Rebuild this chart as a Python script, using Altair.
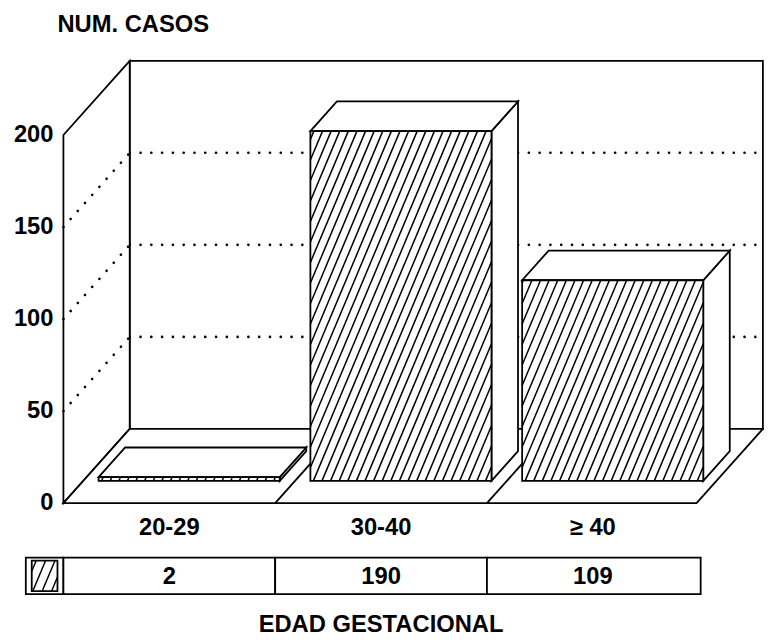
import math
import altair as alt
import pandas as pd

# ---------------- data ----------------
categories = ["20-29", "30-40", "\u2265 40"]
values = [2, 190, 109]
y_ticks = [0, 50, 100, 150, 200]
grid_values = [50, 100, 150]
y_max = 200
y_title = "NUM. CASOS"
x_title = "EDAD GESTACIONAL"

# ---------------- geometry (style) ----------------
W, H = 764, 636
PXX = 214.0          # px per category unit
PXY = 1.86           # px per count unit
X0 = -163 / PXX
X1 = (W - 163) / PXX
Y0 = (497 - H) / PXY
Y1 = 497 / PXY
DXU = 67 / PXX       # depth offset (x, category units)
DYV = 75 / PXY       # depth offset (y, count units)
F0, F1 = 0.3, 0.7    # bar depth range
HW = 0.4276          # bar half width
XL_EDGE, XR_EDGE = -0.5, 2.49
FONT = "Liberation Sans"
FS = 24
FW = "bold"
SW = 1.8

xs = alt.Scale(domain=[X0, X1], nice=False, zero=False)
ys = alt.Scale(domain=[Y0, Y1], nice=False, zero=False)


def XE(f="x"):
    return alt.X(f"{f}:Q", scale=xs, axis=None)


def YE(f="y"):
    return alt.Y(f"{f}:Q", scale=ys, axis=None, stack=False)


def hatch(xl, base, wpx, hpx, s=8.7, a=0.42, phase=3.0):
    segs = []
    if hpx <= 0:
        return segs
    k0 = math.floor((-a * hpx - phase) / s) - 1
    k1 = math.ceil((wpx - phase) / s) + 1
    for k in range(k0, k1 + 1):
        t = phase + k * s
        h0 = max(0.0, (0 - t) / a)
        h1 = min(hpx, (wpx - t) / a)
        if h1 - h0 > 0.2:
            segs.append({
                "x": xl + (t + a * h0) / PXX, "y": base + h0 / PXY,
                "x2": xl + (t + a * h1) / PXX, "y2": base + h1 / PXY,
            })
    return segs


# ---------------- tables ----------------
back_wall = pd.DataFrame({"x": [XL_EDGE + DXU], "x2": [XR_EDGE + DXU],
                          "y": [DYV], "y2": [y_max + DYV]})
back_grid = pd.DataFrame({"x": [XL_EDGE + DXU] * len(grid_values),
                          "x2": [XR_EDGE + DXU] * len(grid_values),
                          "y": [g + DYV for g in grid_values]})
left_wall = pd.DataFrame({"poly": ["lw", "lw"], "x": [XL_EDGE, XL_EDGE + DXU],
                          "y": [y_max, y_max + DYV], "y2": [0, DYV]})
left_diag = pd.DataFrame({"x": [XL_EDGE] * len(grid_values),
                          "x2": [XL_EDGE + DXU] * len(grid_values),
                          "y": grid_values,
                          "y2": [g + DYV for g in grid_values]})
floor = pd.DataFrame({"poly": ["fl"] * 4,
                      "x": [XL_EDGE, XL_EDGE + DXU, XR_EDGE, XR_EDGE + DXU],
                      "y": [0, DYV, DYV, DYV], "y2": [0, 0, 0, DYV]})
dividers = pd.DataFrame({"x": [0.5, 1.5], "x2": [0.5 + DXU, 1.5 + DXU],
                         "y": [0, 0], "y2": [DYV, DYV]})

fronts, sides, tops, hatches = [], [], [], []
ddx = (F1 - F0) * DXU
ddy = (F1 - F0) * DYV
for i, (c, v) in enumerate(zip(categories, values)):
    xl = i + F0 * DXU - HW
    xr = i + F0 * DXU + HW
    base = F0 * DYV
    top = v + base
    fronts.append({"cat": c, "x": xl, "x2": xr, "y": base, "y2": top})
    sides += [{"cat": c, "x": xr, "y": top, "y2": base},
              {"cat": c, "x": xr + ddx, "y": top + ddy, "y2": base + ddy}]
    tops += [{"cat": c, "x": xl, "y": top, "y2": top},
             {"cat": c, "x": xl + ddx, "y": top + ddy, "y2": top},
             {"cat": c, "x": xr, "y": top + ddy, "y2": top},
             {"cat": c, "x": xr + ddx, "y": top + ddy, "y2": top + ddy}]
    hatches += hatch(xl, base, 2 * HW * PXX, v * PXY)

fronts = pd.DataFrame(fronts)
sides = pd.DataFrame(sides)
tops = pd.DataFrame(tops)
hatches = pd.DataFrame(hatches)

# data table under the chart
T_TOP = (505 - 560) / PXY
T_BOT = (505 - 597) / PXY
T_TXT = (505 - 580) / PXY
cells = pd.DataFrame({"x": [(26 - 171) / PXX, -0.5, 0.5, 1.5],
                      "x2": [-0.5, 0.5, 1.5, (708 - 171) / PXX],
                      "y": [T_TOP] * 4, "y2": [T_BOT] * 4})
sw_xl, sw_xr = (32 - 171) / PXX, (58 - 171) / PXX
sw_top, sw_bot = (505 - 563) / PXY, (505 - 594) / PXY
swatch = pd.DataFrame({"x": [sw_xl], "x2": [sw_xr], "y": [sw_bot], "y2": [sw_top]})
sw_hatch = pd.DataFrame(hatch(sw_xl, sw_bot, (sw_xr - sw_xl) * PXX,
                              (sw_top - sw_bot) * PXY, s=9.5, a=0.42, phase=1.0))

tick_df = pd.DataFrame({"x": [XL_EDGE] * len(y_ticks), "y": y_ticks,
                        "t": [str(t) for t in y_ticks]})
cat_df = pd.DataFrame({"x": list(range(len(categories))),
                       "y": [(505 - 530) / PXY] * len(categories),
                       "t": categories})
val_df = pd.DataFrame({"x": list(range(len(values))),
                       "y": [T_TXT] * len(values),
                       "t": [str(v) for v in values]})
titles = pd.DataFrame({"x": [1.0], "y": [(505 - 628) / PXY], "t": [x_title]})
ytitle = pd.DataFrame({"x": [(58 - 171) / PXX], "y": [(505 - 22) / PXY], "t": [y_title]})

# ---------------- layers ----------------
face = dict(fill="white", stroke="black", strokeWidth=SW)
dots = dict(color="black", strokeWidth=2.6, strokeDash=[0.1, 10.8], strokeCap="round")
txt = dict(font=FONT, fontSize=FS, fontWeight=FW, color="black", baseline="middle")

layers = [
    alt.Chart(back_wall).mark_rect(**face).encode(x=XE(), x2="x2:Q", y=YE(), y2="y2:Q"),
    alt.Chart(back_grid).mark_rule(**dots).encode(x=XE(), x2="x2:Q", y=YE()),
    alt.Chart(left_wall).mark_area(orient="vertical", **face).encode(
        x=XE(), y=YE(), y2="y2:Q", detail="poly:N"),
    alt.Chart(left_diag).mark_rule(**dots).encode(x=XE(), x2="x2:Q", y=YE(), y2="y2:Q"),
    alt.Chart(floor).mark_area(orient="vertical", **face).encode(
        x=XE(), y=YE(), y2="y2:Q", detail="poly:N"),
    alt.Chart(dividers).mark_rule(color="black", strokeWidth=SW).encode(
        x=XE(), x2="x2:Q", y=YE(), y2="y2:Q"),
    alt.Chart(sides).mark_area(orient="vertical", **face).encode(
        x=XE(), y=YE(), y2="y2:Q", detail="cat:N"),
    alt.Chart(tops).mark_area(orient="vertical", **face).encode(
        x=XE(), y=YE(), y2="y2:Q", detail="cat:N"),
    alt.Chart(fronts).mark_rect(**face).encode(x=XE(), x2="x2:Q", y=YE(), y2="y2:Q"),
    alt.Chart(hatches).mark_rule(color="black", strokeWidth=1.5).encode(
        x=XE(), x2="x2:Q", y=YE(), y2="y2:Q"),
    alt.Chart(tick_df).mark_text(align="right", dx=-10, **txt).encode(
        x=XE(), y=YE(), text="t:N"),
    alt.Chart(cat_df).mark_text(align="center", **txt).encode(
        x=XE(), y=YE(), text="t:N"),
    alt.Chart(cells).mark_rect(**face).encode(x=XE(), x2="x2:Q", y=YE(), y2="y2:Q"),
    alt.Chart(swatch).mark_rect(**face).encode(x=XE(), x2="x2:Q", y=YE(), y2="y2:Q"),
    alt.Chart(sw_hatch).mark_rule(color="black", strokeWidth=1.5).encode(
        x=XE(), x2="x2:Q", y=YE(), y2="y2:Q"),
    alt.Chart(val_df).mark_text(align="center", **txt).encode(
        x=XE(), y=YE(), text="t:N"),
    alt.Chart(titles).mark_text(align="center", **txt).encode(
        x=XE(), y=YE(), text="t:N"),
    alt.Chart(ytitle).mark_text(align="left", **txt).encode(
        x=XE(), y=YE(), text="t:N"),
]

chart = alt.layer(*layers).properties(
    width=W, height=H, autosize=alt.AutoSizeParams(type="none"), padding=0,
    background="white",
).configure_view(stroke=None)

chart.save("out.html", embed_options={"renderer": "svg", "actions": False})
